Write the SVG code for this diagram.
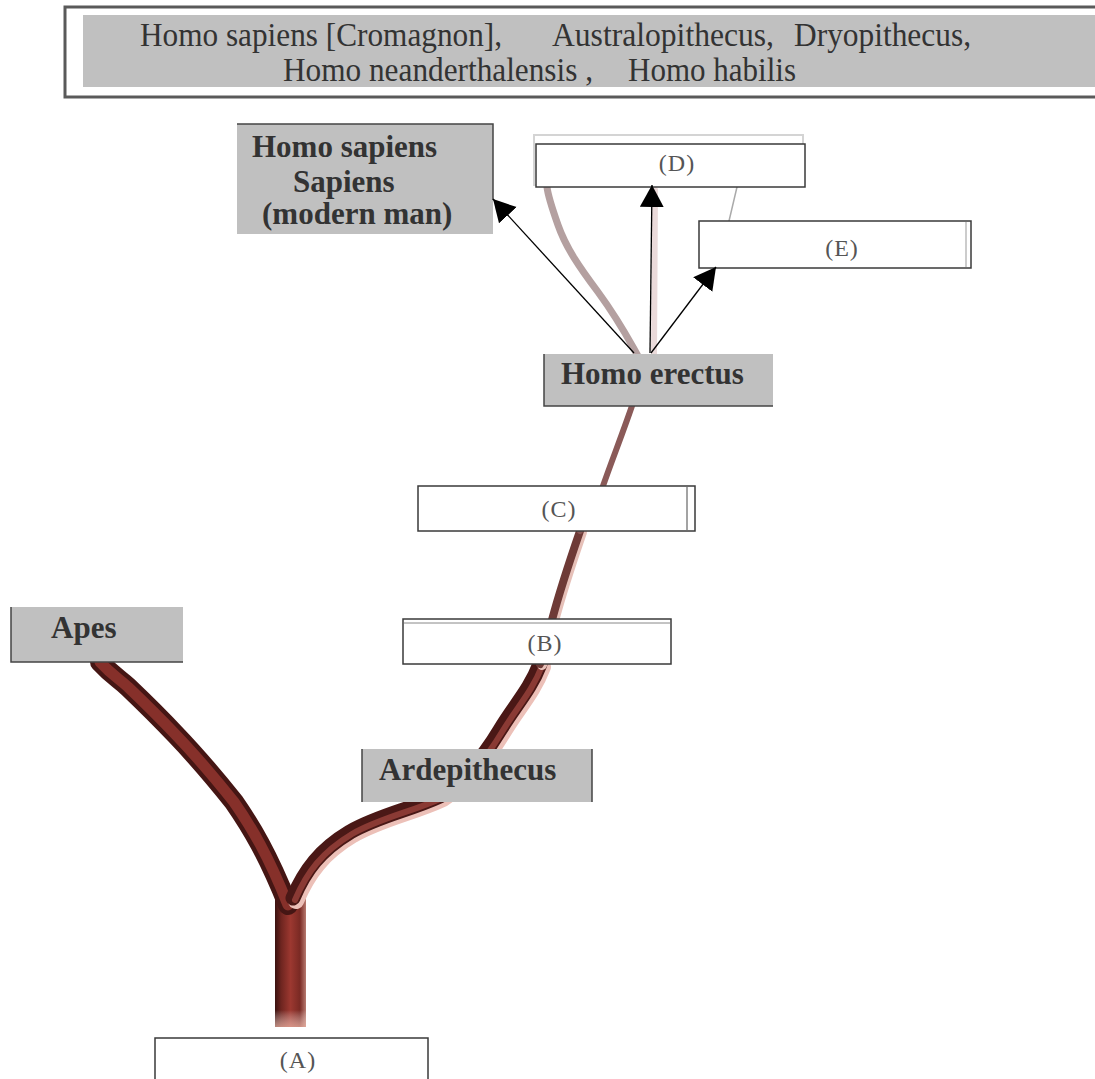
<svg xmlns="http://www.w3.org/2000/svg" width="1095" height="1079" viewBox="0 0 1095 1079">
<defs>
<style>
.lbl{font-family:"Liberation Serif","Times New Roman",serif;font-weight:bold;font-size:31px;fill:#333}
.list{font-family:"Liberation Serif","Times New Roman",serif;font-size:34px;fill:#333}
.let{font-family:"Liberation Serif","Times New Roman",serif;font-size:24px;fill:#555;text-anchor:middle;letter-spacing:1px}
.gray{fill:#c0c0c0}
.wbox{fill:#fff;stroke:#3a3a3a;stroke-width:1.5}
.edge{stroke:#444;stroke-width:1.5;fill:none}
.arr{stroke:#000;stroke-width:1.3;fill:none;marker-end:url(#ah)}
.br{fill:none;stroke-linecap:round;stroke-linejoin:round}
</style>
<marker id="ah" markerUnits="userSpaceOnUse" markerWidth="24" markerHeight="26" refX="22" refY="12" orient="auto" viewBox="0 0 24 26">
<path d="M0,0 L22,12 L0,24 z" fill="#000"/>
</marker>
<linearGradient id="trunk" x1="0" y1="0" x2="1" y2="0">
<stop offset="0" stop-color="#3a1210"/>
<stop offset="0.2" stop-color="#6e2520"/>
<stop offset="0.5" stop-color="#9c3830"/>
<stop offset="0.8" stop-color="#7a2a24"/>
<stop offset="1" stop-color="#b87a70"/>
</linearGradient>
<linearGradient id="trunkfade" x1="0" y1="0" x2="0" y2="1">
<stop offset="0" stop-color="#fff" stop-opacity="0"/>
<stop offset="1" stop-color="#f0b8a8" stop-opacity="0.7"/>
</linearGradient>
</defs>

<g id="tree">
<!-- trunk -->
<rect x="275" y="890" width="31" height="137" fill="url(#trunk)"/>
<rect x="275" y="1010" width="31" height="17" fill="url(#trunkfade)"/>
<!-- left branch -->
<path class="br" d="M100,662 C112,675 118,678 128,687 C150,708 160,718 176,735 C200,760 218,782 234,802 C252,828 268,855 288,905" stroke="#451614" stroke-width="20"/>
<path class="br" d="M100,662 C112,675 118,678 128,687 C150,708 160,718 176,735 C200,760 218,782 234,802 C252,828 268,855 288,905" stroke="#86302a" stroke-width="11"/>
<!-- right branch lower -->
<path class="br" d="M293,898 C305,870 320,850 350,832 C380,815 410,810 440,796 C465,780 485,755 500,730 C515,705 530,690 540,664" stroke="#ecc0b8" stroke-width="16" transform="translate(3,3)"/>
<path class="br" d="M293,898 C305,870 320,850 350,832 C380,815 410,810 440,796 C465,780 485,755 500,730 C515,705 530,690 540,664" stroke="#4a1816" stroke-width="15"/>
<path class="br" d="M293,898 C305,870 320,850 350,832 C380,815 410,810 440,796 C465,780 485,755 500,730 C515,705 530,690 540,664" stroke="#8a3a34" stroke-width="6" transform="translate(2,2)"/>
<!-- B to C -->
<path class="br" d="M540,664 C546,648 549,632 552,620 C560,590 570,560 580,531" stroke="#e6c0b8" stroke-width="10" transform="translate(2,1)"/>
<path class="br" d="M540,664 C546,648 549,632 552,620 C560,590 570,560 580,531" stroke="#6e3a36" stroke-width="8"/>
<!-- C to erectus -->
<path class="br" d="M580,531 C590,515 598,500 603,486 C612,460 624,430 634,400" stroke="#8a5a58" stroke-width="6"/>
<!-- pale branch to D -->
<path class="br" d="M638,356 C630,342 620,322 598,292 C580,268 566,248 558,225 C552,208 548,196 547,187" stroke="#b4a0a0" stroke-width="7"/>
<path class="br" d="M654,356 L655,190" stroke="#eadada" stroke-width="6"/>
<path class="br" d="M737,187 L729,221" stroke="#aaa" stroke-width="1.5"/>
</g>

<g id="node-list">
<rect x="65" y="7" width="1040" height="90" fill="#fff" stroke="#5a5a5a" stroke-width="3"/>
<rect class="gray" x="83" y="15" width="1020" height="72"/>
<text class="list" y="46"><tspan x="140" textLength="362" lengthAdjust="spacingAndGlyphs">Homo sapiens [Cromagnon],</tspan><tspan x="552" textLength="222" lengthAdjust="spacingAndGlyphs">Australopithecus,</tspan><tspan x="794" textLength="177" lengthAdjust="spacingAndGlyphs">Dryopithecus,</tspan></text>
<text class="list" y="81"><tspan x="283" textLength="310" lengthAdjust="spacingAndGlyphs">Homo neanderthalensis ,</tspan><tspan x="628" textLength="168" lengthAdjust="spacingAndGlyphs">Homo habilis</tspan></text>
</g>

<g id="node-sapiens">
<rect class="gray" x="237" y="124" width="256" height="110"/>
<path class="edge" d="M237,124 H493 V200"/>
<text class="lbl" x="252" y="157">Homo sapiens</text>
<text class="lbl" x="293" y="192">Sapiens</text>
<text class="lbl" x="262" y="224">(modern man)</text>
</g>

<g id="node-D">
<rect x="534" y="135" width="269" height="50" fill="none" stroke="#d4d4d4" stroke-width="2"/>
<rect class="wbox" x="536" y="144" width="269" height="43"/>
<text class="let" x="677" y="171">(D)</text>
</g>

<g id="node-E">
<rect class="wbox" x="699" y="221" width="272" height="47"/>
<line x1="966" y1="222" x2="966" y2="267" stroke="#999" stroke-width="1"/>
<text class="let" x="842" y="256">(E)</text>
</g>

<g id="node-erectus">
<rect class="gray" x="544" y="354" width="229" height="52"/>
<path class="edge" d="M544,354 V406 H773"/>
<text class="lbl" x="561" y="384">Homo erectus</text>
</g>

<g id="node-C">
<rect class="wbox" x="418" y="486" width="277" height="45"/>
<line x1="687" y1="487" x2="687" y2="530" stroke="#666" stroke-width="1.2"/>
<text class="let" x="559" y="517">(C)</text>
</g>

<g id="node-B">
<rect class="wbox" x="403" y="619" width="268" height="45"/>
<line x1="404" y1="623" x2="670" y2="623" stroke="#888" stroke-width="1"/>
<text class="let" x="545" y="651">(B)</text>
</g>

<g id="node-apes">
<rect class="gray" x="11" y="607" width="172" height="55"/>
<path class="edge" d="M11,607 V662 H183"/>
<text class="lbl" x="51" y="638">Apes</text>
</g>

<g id="node-ardepithecus">
<rect class="gray" x="362" y="749" width="230" height="53"/>
<path class="edge" d="M362,749 V802 M592,749 V802"/>
<text class="lbl" x="379" y="780">Ardepithecus</text>
</g>

<g id="node-A">
<rect class="wbox" x="155" y="1038" width="273" height="60"/>
<text class="let" x="298" y="1068">(A)</text>
</g>

<g id="connectors">
<line class="arr" x1="634" y1="353" x2="493" y2="199"/>
<line class="arr" x1="650" y1="353" x2="652" y2="185"/>
<line class="arr" x1="651" y1="353" x2="716" y2="267"/>
</g>
</svg>
